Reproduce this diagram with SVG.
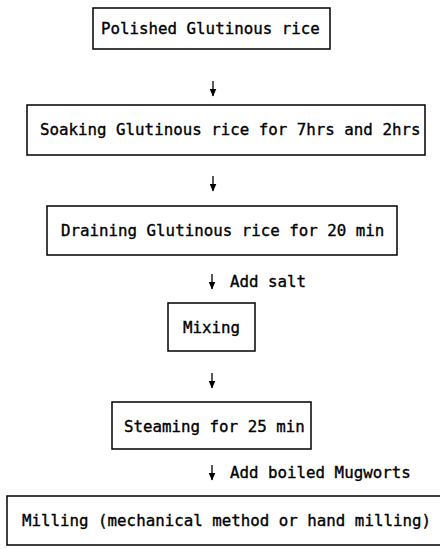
<svg xmlns="http://www.w3.org/2000/svg" width="440" height="549" viewBox="0 0 440 549">
<style>
.box{fill:#fff;stroke:#000;stroke-width:1.5}
.t{font-family:"DejaVu Sans Mono","Liberation Mono",monospace;font-size:15.8px;fill:#000;stroke:#000;stroke-width:0.35}
.c{stroke:#000;stroke-width:1.3;fill:none;marker-end:url(#ah)}
</style>
<defs>
<marker id="ah" viewBox="0 0 8 7" refX="7.5" refY="3.5" markerWidth="8" markerHeight="7" markerUnits="userSpaceOnUse" orient="auto">
<path d="M0,0 L8,3.5 L0,7 Z" fill="#000"/>
</marker>
</defs>
<rect width="440" height="549" fill="#fff"/>
<g id="n1"><rect class="box" x="93" y="8" width="237" height="41"/><text class="t" x="101" y="34">Polished Glutinous rice</text></g>
<g id="n2"><rect class="box" x="27" y="105" width="398" height="50"/><text class="t" x="40" y="135">Soaking Glutinous rice for 7hrs and 2hrs</text></g>
<g id="n3"><rect class="box" x="47" y="206" width="350" height="49"/><text class="t" x="61" y="236">Draining Glutinous rice for 20 min</text></g>
<g id="n4"><rect class="box" x="168" y="303" width="87" height="48"/><text class="t" x="183" y="333">Mixing</text></g>
<g id="n5"><rect class="box" x="112" y="402" width="199" height="47"/><text class="t" x="124" y="432">Steaming for 25 min</text></g>
<g id="n6"><rect class="box" x="7" y="496" width="440" height="49"/><text class="t" x="22" y="526">Milling (mechanical method or hand milling)</text></g>
<g id="connectors">
<line class="c" x1="213" y1="81" x2="213" y2="96"/>
<line class="c" x1="213" y1="176" x2="213" y2="191"/>
<line class="c" x1="212" y1="274" x2="212" y2="289"/>
<text class="t" x="230" y="287">Add salt</text>
<line class="c" x1="212" y1="373" x2="212" y2="388"/>
<line class="c" x1="212" y1="465" x2="212" y2="480"/>
<text class="t" x="230" y="478">Add boiled Mugworts</text>
</g>
</svg>
